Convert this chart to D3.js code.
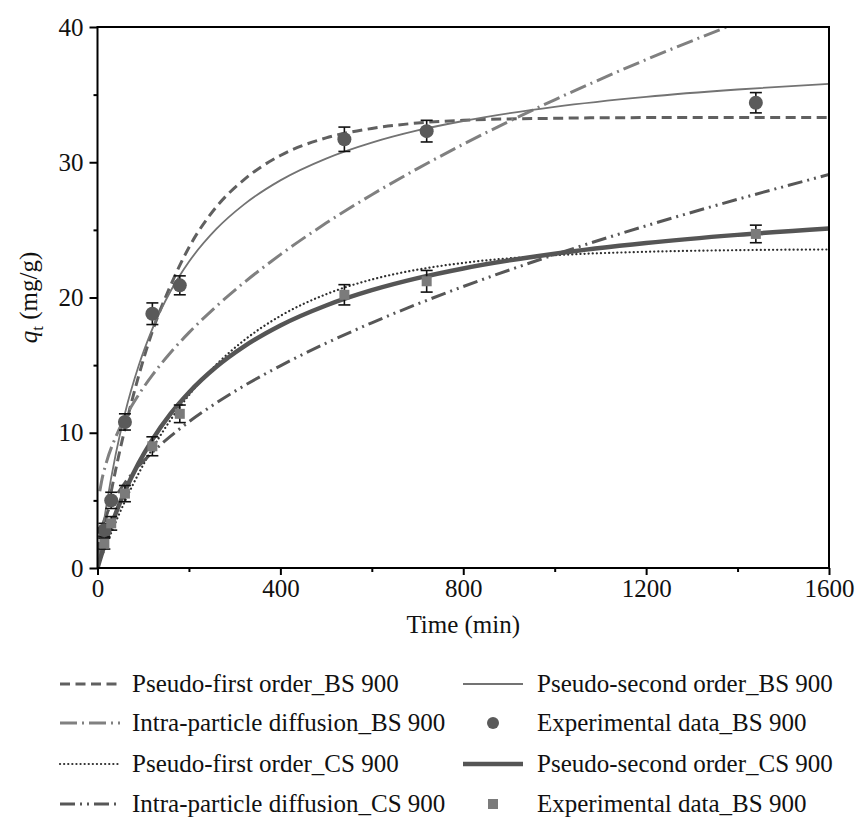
<!DOCTYPE html>
<html>
<head>
<meta charset="utf-8">
<script src="https://cdnjs.cloudflare.com/ajax/libs/d3/7.8.5/d3.min.js"></script>
<style>
  body { margin: 0; background: #fff; }
  svg text { font-family: "Liberation Serif", "DejaVu Serif", serif; fill: #111; }
</style>
</head>
<body>
<svg id="chart" width="857" height="819"></svg>
<script>
// experimental points (min, mg/g) and their error bars
var expTimes = [15, 30, 60, 120, 180, 540, 720, 1440];
var expBS = [2.8, 5.0, 10.8, 18.8, 20.9, 31.7, 32.3, 34.4];
var errBS = [0.5, 0.6, 0.6, 0.8, 0.7, 0.9, 0.8, 0.75];
var expCS = [1.8, 3.3, 5.5, 9.0, 11.4, 20.2, 21.2, 24.7];
var errCS = [0.4, 0.5, 0.6, 0.7, 0.65, 0.75, 0.8, 0.65];

// model curves
var fitTimes = [0, 5, 10, 20, 40, 60, 90, 120, 160, 200, 260, 320, 400, 500, 600, 700, 800, 1000, 1200, 1400, 1600];
var pfoBS = [0, 1.02, 2.0, 3.9, 7.3, 10.3, 14.2, 17.5, 20.9, 23.7, 26.7, 28.7, 30.5, 31.8, 32.5, 32.9, 33.1, 33.25, 33.3, 33.3, 33.3];
var psoBS = [0, 1.3, 2.52, 4.73, 8.44, 11.43, 14.95, 17.68, 20.48, 22.64, 25.07, 26.87, 28.66, 30.27, 31.45, 32.35, 33.05, 34.1, 34.84, 35.38, 35.8];
var ipdBS = [null, 5.67, 6.59, 7.87, 9.7, 11.1, 12.81, 14.26, 15.93, 17.4, 19.35, 21.09, 23.17, 25.5, 27.6, 29.53, 31.33, 34.62, 37.59, 40.33, 43.1];
var pfoCS = [0, 0.46, 0.9, 1.77, 3.41, 4.93, 6.99, 8.82, 10.96, 12.78, 15.04, 16.82, 18.64, 20.24, 21.33, 22.06, 22.56, 23.12, 23.38, 23.5, 23.55];
var psoCS = [0, 0.58, 1.13, 2.18, 4.05, 5.68, 7.75, 9.49, 11.41, 12.98, 14.88, 16.37, 17.93, 19.41, 20.54, 21.43, 22.15, 23.24, 24.03, 24.63, 25.1];
var ipdCS = [0.81, 2.39, 3.05, 3.97, 5.28, 6.29, 7.52, 8.55, 9.75, 10.81, 12.21, 13.46, 14.95, 16.62, 18.13, 19.52, 20.81, 23.17, 25.3, 27.26, 29.09];

var xMajor = [0, 400, 800, 1200, 1600];
var xMinor = [200, 600, 1000, 1400];
var yMajor = [0, 10, 20, 30, 40];
var yMinor = [5, 15, 25, 35];

(function () {
  var svg = d3.select("#chart");

  var plotLeft = 97.5, plotRight = 829, plotTop = 27, plotBottom = 568;

  var x = d3.scaleLinear().domain([0, 1600]).range([plotLeft, plotRight]);
  var y = d3.scaleLinear().domain([0, 40]).range([plotBottom, plotTop]);

  //line styles for each fitted model
  var curves = [
    { name: "Pseudo-first order_BS 900", values: pfoBS, color: "#606060", width: 3, dash: "10,5.5", cap: "butt" },
    { name: "Intra-particle diffusion_BS 900", values: ipdBS, color: "#808080", width: 3, dash: "17,5,2,5", cap: "butt" },
    { name: "Pseudo-first order_CS 900", values: pfoCS, color: "#2e2e2e", width: 2.2, dash: "0.1,4", cap: "round" },
    { name: "Intra-particle diffusion_CS 900", values: ipdCS, color: "#575757", width: 3, dash: "15,5,2,5,2,5", cap: "butt" },
    { name: "Pseudo-second order_BS 900", values: psoBS, color: "#737373", width: 1.8, dash: null, cap: "butt" },
    { name: "Pseudo-second order_CS 900", values: psoCS, color: "#555555", width: 4.5, dash: null, cap: "butt" }
  ];

  svg.append("clipPath").attr("id", "plot-clip")
    .append("rect")
    .attr("x", plotLeft).attr("y", plotTop)
    .attr("width", plotRight - plotLeft).attr("height", plotBottom - plotTop);

  var line = d3.line()
    .defined(function (d) { return d[1] !== null; })
    .x(function (d) { return x(d[0]); })
    .y(function (d) { return y(d[1]); })
    .curve(d3.curveMonotoneX);

  var plot = svg.append("g").attr("clip-path", "url(#plot-clip)");

  curves.forEach(function (c) {
    plot.append("path")
      .datum(fitTimes.map(function (t, i) { return [t, c.values[i]]; }))
      .attr("d", line)
      .attr("fill", "none")
      .attr("stroke", c.color)
      .attr("stroke-width", c.width)
      .attr("stroke-linecap", c.cap)
      .attr("stroke-dasharray", c.dash);
  });

  //error bars, then the markers on top
  var drawErrors = function (values, errs) {
    var g = svg.append("g").attr("stroke", "#111").attr("stroke-width", 1.6);
    expTimes.forEach(function (t, i) {
      var cx = x(t), y0 = y(values[i] - errs[i]), y1 = y(values[i] + errs[i]);
      g.append("line").attr("x1", cx).attr("x2", cx).attr("y1", y0).attr("y2", y1);
      g.append("line").attr("x1", cx - 6).attr("x2", cx + 6).attr("y1", y0).attr("y2", y0);
      g.append("line").attr("x1", cx - 6).attr("x2", cx + 6).attr("y1", y1).attr("y2", y1);
    });
  };
  drawErrors(expBS, errBS);
  drawErrors(expCS, errCS);

  svg.append("g").selectAll("circle")
    .data(expTimes)
    .enter()
    .append("circle")
    .attr("cx", function (d) { return x(d); })
    .attr("cy", function (d, i) { return y(expBS[i]); })
    .attr("r", 7)
    .attr("fill", "#5a5a5a");

  svg.append("g").selectAll("rect")
    .data(expTimes)
    .enter()
    .append("rect")
    .attr("x", function (d) { return x(d) - 5; })
    .attr("y", function (d, i) { return y(expCS[i]) - 5; })
    .attr("width", 10)
    .attr("height", 10)
    .attr("fill", "#7b7b7b");

  //axes
  var styleAxis = function (g) {
    g.select(".domain").remove();
    g.selectAll(".tick line").attr("stroke", "#000").attr("stroke-width", 2);
    g.selectAll(".tick text").style("font-size", "25px").attr("fill", "#111");
  };

  svg.append("g")
    .attr("transform", "translate(0," + plotBottom + ")")
    .call(d3.axisBottom(x).tickValues(xMajor).tickSize(7).tickPadding(4).tickFormat(d3.format("d")))
    .call(styleAxis);
  svg.append("g")
    .attr("transform", "translate(0," + plotBottom + ")")
    .call(d3.axisBottom(x).tickValues(xMinor).tickSize(4).tickFormat(""))
    .call(styleAxis);

  svg.append("g")
    .attr("transform", "translate(" + plotLeft + ",0)")
    .call(d3.axisLeft(y).tickValues(yMajor).tickSize(8).tickPadding(6).tickFormat(d3.format("d")))
    .call(styleAxis);
  svg.append("g")
    .attr("transform", "translate(" + plotLeft + ",0)")
    .call(d3.axisLeft(y).tickValues(yMinor).tickSize(4).tickFormat(""))
    .call(styleAxis);

  svg.append("rect")
    .attr("x", plotLeft).attr("y", plotTop)
    .attr("width", plotRight - plotLeft).attr("height", plotBottom - plotTop)
    .attr("fill", "none")
    .attr("stroke", "#000")
    .attr("stroke-width", 2);

  svg.append("text")
    .attr("x", (plotLeft + plotRight) / 2)
    .attr("y", 633)
    .attr("text-anchor", "middle")
    .style("font-size", "25px")
    .text("Time (min)");

  var yLabel = svg.append("text")
    .attr("transform", "translate(37," + ((plotTop + plotBottom) / 2) + ") rotate(-90)")
    .attr("text-anchor", "middle")
    .style("font-size", "25px");
  yLabel.append("tspan").style("font-style", "italic").text("q");
  yLabel.append("tspan").attr("dy", 6).style("font-size", "17px").text("t");
  yLabel.append("tspan").attr("dy", -6).text(" (mg/g)");

  //legend: two columns
  var legendRows = [684, 723, 764, 804];
  var legend = svg.append("g");

  var addLineKey = function (c, lx, tx, ry) {
    legend.append("line")
      .attr("x1", lx).attr("x2", lx + 60)
      .attr("y1", ry).attr("y2", ry)
      .attr("stroke", c.color)
      .attr("stroke-width", c.width)
      .attr("stroke-linecap", c.cap)
      .attr("stroke-dasharray", c.dash);
    legend.append("text")
      .attr("x", tx).attr("y", ry + 8)
      .style("font-size", "25px")
      .text(c.name);
  };

  addLineKey(curves[0], 60, 132, legendRows[0]);
  addLineKey(curves[1], 60, 132, legendRows[1]);
  addLineKey(curves[2], 60, 132, legendRows[2]);
  addLineKey(curves[3], 60, 132, legendRows[3]);
  addLineKey(curves[4], 463, 537, legendRows[0]);
  addLineKey(curves[5], 463, 537, legendRows[2]);

  legend.append("circle")
    .attr("cx", 493).attr("cy", legendRows[1]).attr("r", 6)
    .attr("fill", "#5a5a5a");
  legend.append("text")
    .attr("x", 537).attr("y", legendRows[1] + 8)
    .style("font-size", "25px")
    .text("Experimental data_BS 900");

  legend.append("rect")
    .attr("x", 488).attr("y", legendRows[3] - 5).attr("width", 10).attr("height", 10)
    .attr("fill", "#7b7b7b");
  legend.append("text")
    .attr("x", 537).attr("y", legendRows[3] + 8)
    .style("font-size", "25px")
    .text("Experimental data_BS 900");
})();
</script>
</body>
</html>
